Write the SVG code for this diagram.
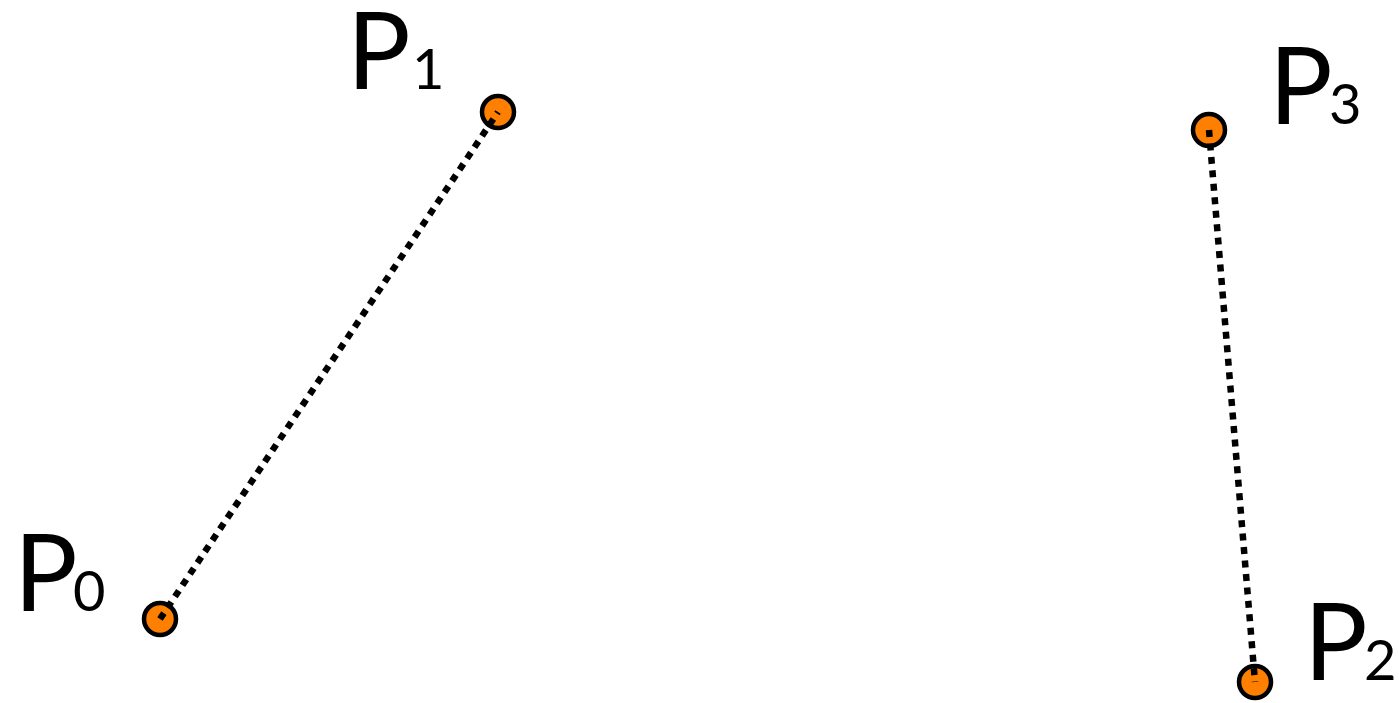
<svg xmlns="http://www.w3.org/2000/svg" width="1399" height="703" viewBox="0 0 1399 703">
  <style>
    .pt { fill: #ff8000; stroke: #000; stroke-width: 4.5; }
    .guide { stroke: #000; stroke-width: 6.5; stroke-dasharray: 7 6.5; fill: none; }
    .lbl { font-family: Lato, "Open Sans", sans-serif; font-size: 106px; fill: #000; }
    .sub { font-family: Lato, "Open Sans", sans-serif; font-size: 56px; fill: #000; }
  </style>
  <rect width="1399" height="703" fill="#fff"/>

  <!-- control points -->
  <g id="p0"><circle class="pt" cx="160" cy="619" r="16"/></g>
  <g id="p1"><circle class="pt" cx="498" cy="112" r="16"/></g>
  <g id="p2"><circle class="pt" cx="1255" cy="682" r="16"/></g>
  <g id="p3"><circle class="pt" cx="1209" cy="130" r="16"/></g>

  <!-- handle lines, drawn over the points -->
  <g id="connectors">
    <line class="guide" x1="160" y1="619" x2="498" y2="112"/>
    <line class="guide" x1="1209" y1="130" x2="1255" y2="682"/>
  </g>

  <!-- labels: letter and index set separately -->
  <g id="labels">
    <text class="lbl" x="14" y="611">P</text>
    <text class="sub" x="73" y="611">0</text>
    <text class="lbl" x="347" y="89">P</text>
    <text class="sub" x="412" y="89">1</text>
    <text class="lbl" x="1304" y="680">P</text>
    <text class="sub" x="1364" y="680">2</text>
    <text class="lbl" x="1269" y="124">P</text>
    <text class="sub" x="1329" y="124">3</text>
  </g>
</svg>
